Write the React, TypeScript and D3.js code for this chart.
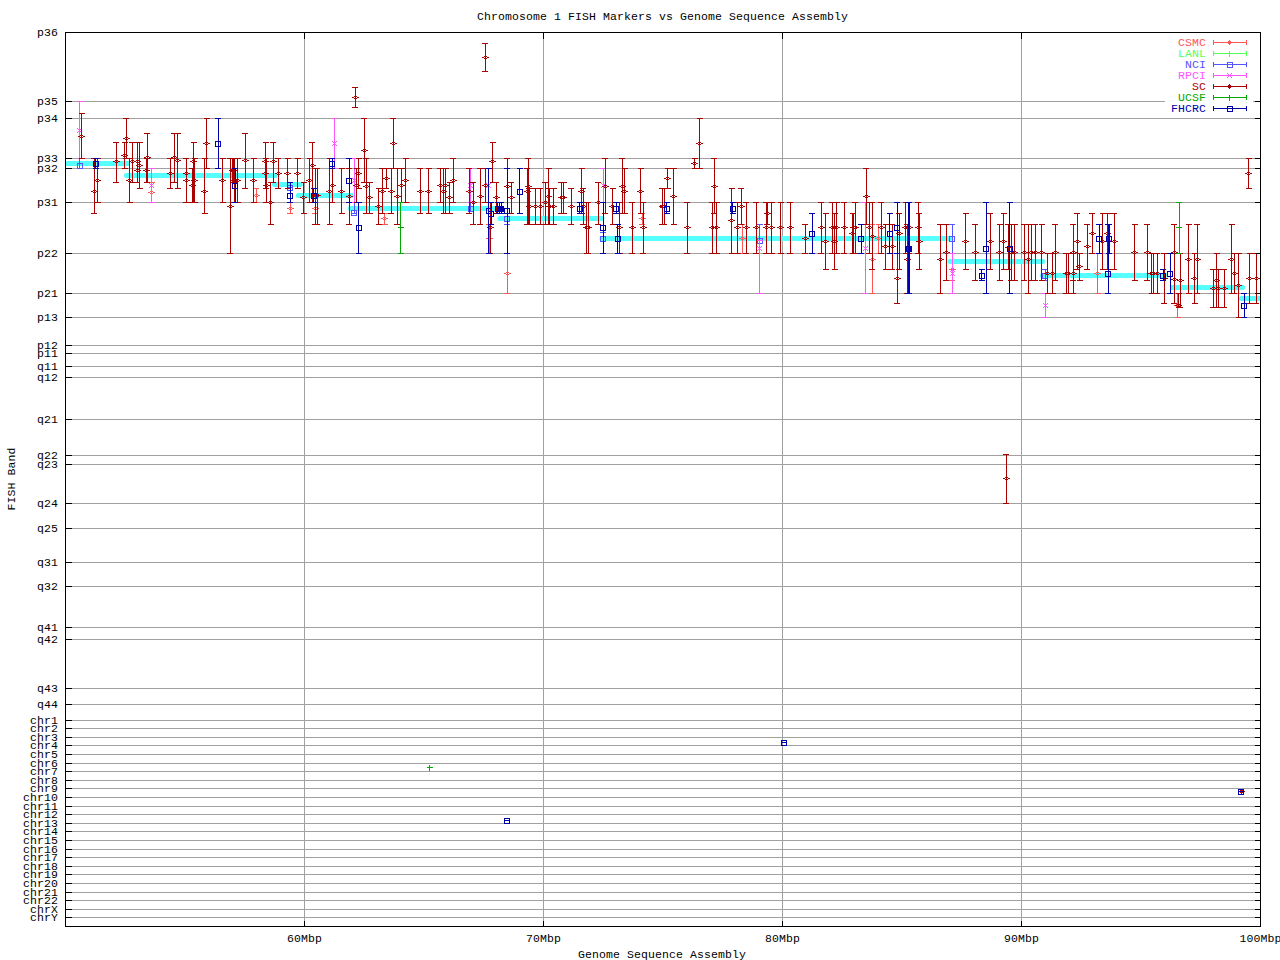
import React from 'react';
import * as d3 from 'd3';

type Marker = [number, number, number, number]; // Mbp, band position, top of band range, bottom of band range

const bandLabels = ['p36', 'p35', 'p34', 'p33', 'p32', 'p31', 'p22', 'p21', 'p13', 'p12', 'p11', 'q11', 'q12', 'q21', 'q22', 'q23', 'q24', 'q25', 'q31', 'q32', 'q41', 'q42', 'q43', 'q44',
  'chr1', 'chr2', 'chr3', 'chr4', 'chr5', 'chr6', 'chr7', 'chr8', 'chr9', 'chr10', 'chr11', 'chr12', 'chr13', 'chr14', 'chr15', 'chr16', 'chr17', 'chr18', 'chr19', 'chr20', 'chr21', 'chr22', 'chrX', 'chrY'];
const bandPositions = [32, 101, 118, 158, 168, 202, 253, 293, 317, 345, 353, 366, 377, 419, 455, 464, 503, 528, 562, 586, 627, 639, 688, 704,
  720, 728, 737, 745, 754, 763, 771, 780, 788, 797, 806, 814, 823, 831, 840, 849, 857, 866, 874, 883, 892, 900, 909, 917];

const mbTicks = [60, 70, 80, 90, 100];

// assembly segments: start Mbp, end Mbp, band position
const assembly: [number, number, number][] = [
  [50, 52.6, 163], [52.55, 58.78, 175], [58.74, 59.82, 184], [59.74, 61.96, 195], [61.92, 67.93, 208], [68.18, 72.44, 218],
  [72.45, 87, 238], [87, 90.88, 261], [90.88, 96.03, 275], [96.32, 99.25, 287], [99.2, 100, 298],
];

const csmc: Marker[] = [
  [53.6, 192, 182, 202], [57.99, 195, 188, 202], [59.41, 208, 202, 213], [60.46, 208, 202, 213], [63.35, 218, 213, 224], [67.74, 238, 224, 253],
  [68.49, 273, 253, 293], [74.14, 218, 213, 224], [78.32, 238, 224, 253], [83.76, 259, 224, 293], [84.02, 238, 224, 253], [87.11, 269, 269, 280],
  [93.18, 273, 253, 293], [96.53, 305, 293, 317],
];

const lanl: Marker[] = [];

const nci: Marker[] = [
  [50.59, 165, 158, 168], [59.41, 187, 182, 187], [62.09, 212, 202, 213], [66.95, 208, 202, 211], [68.49, 218, 213, 224], [72.51, 238, 232, 241],
  [79.04, 240, 224, 240], [87.11, 238, 224, 253], [91, 275, 269, 280],
];

const rpci: Marker[] = [
  [50.59, 130, 101, 158], [53.6, 185, 168, 202], [61.26, 143, 118, 168], [62.09, 180, 158, 202], [66.95, 185, 168, 202], [67.7, 185, 168, 202],
  [72.51, 185, 168, 202], [79.04, 248, 240, 293], [83.47, 248, 202, 293], [87.11, 273, 253, 293], [91, 305, 293, 317], [93.64, 238, 224, 253],
];

const sc: Marker[] = [
  [50.67, 136, 113, 158], [51.21, 191, 158, 213], [51.34, 180, 158, 202], [52.13, 161, 142, 182], [52.47, 155, 142, 168], [52.55, 138, 118, 158],
  [52.68, 180, 158, 202], [52.8, 161, 142, 182], [53.01, 161, 142, 182], [53.01, 170, 142, 182], [53.1, 165, 142, 188], [53.39, 170, 158, 182],
  [53.43, 157, 133, 182], [54.39, 173, 158, 188], [54.56, 157, 133, 182], [54.69, 160, 133, 188], [55.06, 173, 158, 202], [55.06, 180, 158, 202],
  [55.31, 185, 168, 202], [55.36, 161, 142, 202], [55.4, 180, 158, 202], [55.82, 191, 158, 213], [55.9, 143, 118, 168], [56.57, 180, 158, 202],
  [56.9, 206, 158, 253], [56.99, 170, 158, 182], [57.03, 170, 158, 182], [57.07, 180, 158, 202], [57.2, 180, 158, 202], [57.53, 160, 133, 188],
  [57.87, 180, 158, 202], [58.37, 173, 142, 188], [58.37, 161, 142, 188], [58.41, 185, 158, 202], [58.58, 202, 182, 224], [58.7, 161, 142, 182],
  [58.91, 173, 158, 188], [59.29, 173, 158, 188], [59.71, 173, 158, 188], [59.96, 197, 182, 213], [60.21, 180, 158, 202], [60.33, 165, 142, 202],
  [60.46, 195, 168, 224], [60.54, 195, 168, 224], [61.05, 191, 158, 224], [61.17, 185, 158, 202], [61.55, 191, 168, 213], [61.88, 196, 168, 224],
  [62.13, 97, 87, 107], [62.18, 185, 168, 202], [62.26, 173, 158, 188], [62.51, 150, 118, 182], [62.59, 186, 158, 213], [62.72, 197, 182, 213],
  [63.1, 206, 188, 224], [63.26, 191, 168, 213], [63.43, 178, 168, 188], [63.64, 191, 168, 213], [63.72, 143, 118, 168], [63.89, 196, 168, 224],
  [64.06, 185, 168, 202], [64.23, 180, 158, 202], [64.85, 191, 168, 213], [65.19, 191, 168, 213], [65.69, 185, 168, 202], [65.82, 191, 168, 213],
  [65.9, 185, 168, 213], [66.07, 197, 182, 213], [66.23, 180, 158, 202], [66.9, 191, 168, 213], [67.07, 202, 182, 224], [67.36, 196, 168, 224],
  [67.57, 57, 43, 71], [67.57, 185, 168, 202], [67.78, 227, 202, 253], [67.87, 161, 142, 182], [68.03, 197, 182, 213], [68.49, 186, 158, 213],
  [68.66, 197, 182, 213], [69.33, 191, 168, 224], [69.37, 186, 158, 224], [69.41, 206, 188, 224], [69.66, 206, 188, 224], [69.87, 206, 188, 224],
  [70.08, 202, 182, 224], [70.21, 196, 168, 224], [70.25, 206, 188, 224], [70.42, 206, 188, 224], [70.75, 197, 182, 213], [70.84, 197, 182, 213],
  [71.17, 206, 188, 224], [71.59, 191, 168, 213], [71.67, 206, 188, 224], [71.8, 227, 202, 253], [71.88, 227, 202, 253], [72.3, 202, 182, 224],
  [72.59, 186, 158, 213], [72.89, 206, 188, 224], [73.18, 227, 202, 253], [73.3, 186, 158, 213], [73.39, 191, 168, 213], [73.72, 227, 202, 253],
  [74.06, 191, 168, 213], [74.18, 227, 202, 253], [74.97, 206, 188, 224], [75.06, 206, 188, 224], [75.19, 178, 168, 188], [75.44, 196, 168, 224],
  [76.02, 227, 202, 253], [76.32, 163, 158, 168], [76.53, 143, 118, 168], [77.07, 227, 202, 253], [77.15, 186, 158, 213], [77.24, 227, 202, 253],
  [77.87, 220, 188, 253], [78.12, 227, 202, 253], [78.28, 206, 188, 224], [78.49, 227, 202, 253], [78.91, 227, 202, 253], [79.33, 227, 202, 253],
  [79.37, 213, 202, 224], [79.54, 227, 202, 253], [79.92, 227, 202, 253], [80.33, 227, 202, 253], [80.96, 238, 224, 253], [81.63, 227, 202, 253],
  [81.8, 241, 213, 269], [82.09, 227, 202, 253], [82.18, 241, 213, 269], [82.26, 227, 202, 253], [82.59, 227, 202, 253], [82.93, 233, 213, 253],
  [82.97, 227, 213, 253], [83.05, 227, 202, 253], [83.51, 196, 168, 224], [83.64, 227, 202, 253], [83.76, 236, 202, 269], [84.14, 227, 202, 253],
  [84.31, 246, 224, 269], [84.6, 246, 224, 269], [84.81, 278, 253, 303], [84.89, 233, 213, 269], [85.15, 227, 202, 253], [85.23, 259, 224, 293],
  [85.31, 227, 202, 253], [85.69, 227, 202, 253], [85.73, 241, 213, 269], [86.61, 259, 224, 293], [86.86, 252, 224, 280], [87.66, 241, 213, 269],
  [88.07, 252, 224, 280], [88.7, 241, 213, 269], [89.08, 252, 224, 280], [89.25, 241, 213, 269], [89.37, 478, 454, 503], [89.45, 247, 224, 269],
  [89.58, 252, 224, 280], [89.71, 252, 224, 280], [90.12, 252, 224, 280], [90.29, 259, 224, 293], [90.42, 252, 224, 280], [90.58, 252, 224, 280],
  [90.84, 252, 224, 280], [91.09, 273, 253, 293], [91.3, 273, 253, 293], [91.42, 252, 224, 280], [91.88, 273, 253, 293], [91.97, 273, 253, 293],
  [92.17, 252, 224, 280], [92.17, 273, 253, 293], [92.34, 241, 213, 269], [92.43, 266, 253, 280], [92.76, 246, 224, 269], [92.97, 233, 213, 253],
  [93.39, 241, 213, 269], [93.6, 233, 213, 269], [93.89, 241, 213, 269], [94.73, 252, 224, 280], [95.27, 252, 224, 280], [95.44, 273, 253, 293],
  [95.52, 273, 253, 293], [95.69, 273, 253, 293], [95.98, 278, 253, 303], [96.4, 252, 224, 303], [96.4, 279, 253, 303], [96.57, 305, 293, 307],
  [96.65, 280, 253, 307], [96.99, 259, 224, 293], [97.24, 278, 253, 303], [97.36, 259, 224, 293], [98.03, 288, 269, 307], [98.16, 280, 253, 307],
  [98.24, 288, 269, 307], [98.49, 288, 269, 307], [98.79, 259, 224, 293], [98.91, 273, 253, 293], [99.08, 285, 253, 317], [99.2, 791, 791, 791],
  [99.5, 173, 158, 188], [99.54, 278, 253, 303], [99.83, 278, 253, 303],
];

const ucsf: Marker[] = [
  [64.02, 227, 202, 253], [65.24, 767, 767, 767], [96.61, 227, 202, 253],
];

const fhcrc: Marker[] = [
  [51.26, 163, 158, 168], [56.4, 143, 118, 168], [57.11, 185, 168, 202], [59.41, 195, 182, 202], [60.38, 195, 188, 202], [61.17, 163, 158, 168],
  [61.88, 180, 158, 202], [62.26, 227, 202, 253], [67.7, 210, 168, 253], [67.82, 213, 202, 224], [68.08, 208, 202, 213], [68.16, 208, 202, 213],
  [68.24, 208, 202, 213], [68.47, 820, 820, 820], [68.49, 210, 168, 253], [69, 191, 168, 213], [71.51, 208, 202, 213], [72.51, 227, 202, 253],
  [73.05, 208, 202, 213], [73.1, 238, 224, 253], [75.15, 208, 202, 213], [77.91, 208, 202, 213], [80.07, 742, 742, 742], [81.25, 233, 213, 253],
  [83.3, 238, 224, 253], [84.48, 233, 213, 253], [84.81, 227, 202, 253], [85.27, 248, 202, 293], [85.31, 248, 202, 293], [88.33, 275, 269, 280],
  [88.53, 248, 202, 293], [89.5, 248, 202, 293], [93.26, 238, 224, 253], [93.64, 273, 224, 293], [93.68, 238, 224, 253], [95.94, 275, 269, 280],
  [96.23, 273, 253, 293], [99.2, 791, 791, 791], [99.33, 305, 293, 317],
];

const series: { name: string; color: string; shape: string; data: Marker[] }[] = [
  { name: 'CSMC', color: '#ff5555', shape: 'diamond', data: csmc },
  { name: 'LANL', color: '#55ff55', shape: 'plus', data: lanl },
  { name: 'NCI', color: '#5555ff', shape: 'box', data: nci },
  { name: 'RPCI', color: '#ff55ff', shape: 'cross', data: rpci },
  { name: 'SC', color: '#aa0000', shape: 'diamond', data: sc },
  { name: 'UCSF', color: '#00aa00', shape: 'plus', data: ucsf },
  { name: 'FHCRC', color: '#0000aa', shape: 'box', data: fhcrc },
];

const font = { fontFamily: '"Liberation Mono", monospace', fontSize: 11.5, letterSpacing: 0.1 };

const x = d3.scaleLinear().domain([50, 100]).range([65.5, 1260.5]);
const y = d3.scaleLinear().domain([32, 926]).range([32.5, 926.5]);

function markerPath(shape: string, cx: number, cy: number) {
  const p = d3.path();
  if (shape === 'diamond') {
    p.moveTo(cx - 2.5, cy); p.lineTo(cx, cy - 1.5); p.lineTo(cx + 2.5, cy); p.lineTo(cx, cy + 1.5); p.closePath();
  } else if (shape === 'box') {
    p.rect(cx - 2.5, cy - 2.5, 5, 5);
  } else if (shape === 'cross') {
    p.moveTo(cx - 2.5, cy - 2.5); p.lineTo(cx + 2.5, cy + 2.5);
    p.moveTo(cx - 2.5, cy + 2.5); p.lineTo(cx + 2.5, cy - 2.5);
  } else {
    p.moveTo(cx - 3, cy); p.lineTo(cx + 3, cy);
    p.moveTo(cx, cy - 3); p.lineTo(cx, cy + 3);
  }
  return p.toString();
}

function barPath(d: Marker) {
  const cx = x(d[0]);
  const p = d3.path();
  p.moveTo(cx, y(d[2])); p.lineTo(cx, y(d[3]));
  p.moveTo(cx - 3, y(d[2])); p.lineTo(cx + 3, y(d[2]));
  p.moveTo(cx - 3, y(d[3])); p.lineTo(cx + 3, y(d[3]));
  return p.toString();
}

export default function App() {
  const [left, right] = x.range();
  const top = y(32);
  const bottom = y(926);
  return (
    <svg width={1280} height={960} style={{ position: 'absolute', left: 0, top: 0, background: 'white' }}>
      <defs>
        <clipPath id="plot"><rect x={left} y={top} width={right - left} height={bottom - top} /></clipPath>
      </defs>

      {/* grid */}
      <g stroke="#a0a0a0" shapeRendering="crispEdges">
        {bandPositions.slice(1).map(b => <line key={b} x1={left} x2={right} y1={y(b)} y2={y(b)} />)}
        {mbTicks.slice(0, 4).map(m => <line key={m} x1={x(m)} x2={x(m)} y1={top} y2={bottom} />)}
      </g>

      {/* assembly */}
      <g stroke="#55ffff" strokeWidth={5} strokeLinecap="round" clipPath="url(#plot)">
        {assembly.map((s, i) => <line key={i} x1={x(s[0])} x2={x(s[1])} y1={y(s[2])} y2={y(s[2])} />)}
      </g>

      {/* legend backing */}
      <rect x={1165} y={33} width={88} height={81} fill="white" />

      {/* series */}
      {series.map(s => (
        <g key={s.name} stroke={s.color} fill="none" shapeRendering="crispEdges" clipPath="url(#plot)">
          {s.data.map((d, i) => (
            <g key={i}>
              <path d={barPath(d)} />
              <path d={markerPath(s.shape, x(d[0]), y(d[1]))} />
            </g>
          ))}
        </g>
      ))}

      {/* frame and ticks */}
      <g stroke="black" shapeRendering="crispEdges" fill="none">
        {bandPositions.slice(1).map(b => (
          <g key={b}>
            <line x1={left} x2={left + 6} y1={y(b)} y2={y(b)} />
            <line x1={right - 6} x2={right} y1={y(b)} y2={y(b)} />
          </g>
        ))}
        {mbTicks.slice(0, 4).map(m => (
          <g key={m}>
            <line x1={x(m)} x2={x(m)} y1={top} y2={top + 6} />
            <line x1={x(m)} x2={x(m)} y1={bottom - 6} y2={bottom} />
          </g>
        ))}
        <rect x={left} y={top} width={right - left} height={bottom - top} />
      </g>

      {/* axis text */}
      <g {...font} fill="black">
        {bandLabels.map((l, i) => (
          <text key={l} x={58} y={y(bandPositions[i])} textAnchor="end" dominantBaseline="central">{l}</text>
        ))}
        {mbTicks.map(m => (
          <text key={m} x={x(m)} y={938} textAnchor="middle" dominantBaseline="central">{m}Mbp</text>
        ))}
        <text x={662.5} y={16} textAnchor="middle" dominantBaseline="central">Chromosome 1 FISH Markers vs Genome Sequence Assembly</text>
        <text x={662} y={954} textAnchor="middle" dominantBaseline="central">Genome Sequence Assembly</text>
        <text transform="translate(11,479) rotate(-90)" textAnchor="middle" dominantBaseline="central">FISH Band</text>
      </g>

      {/* legend */}
      {series.map((s, i) => {
        const ly = 42.5 + i * 11;
        return (
          <g key={s.name}>
            <text {...font} x={1206} y={ly} textAnchor="end" dominantBaseline="central" fill={s.color}>{s.name}</text>
            <g stroke={s.color} fill="none" shapeRendering="crispEdges">
              <path d={`M1213.5,${ly}H1246.5M1213.5,${ly - 2.5}V${ly + 2.5}M1246.5,${ly - 2.5}V${ly + 2.5}`} />
              <path d={markerPath(s.shape, 1229.5, ly)} />
            </g>
          </g>
        );
      })}
    </svg>
  );
}
